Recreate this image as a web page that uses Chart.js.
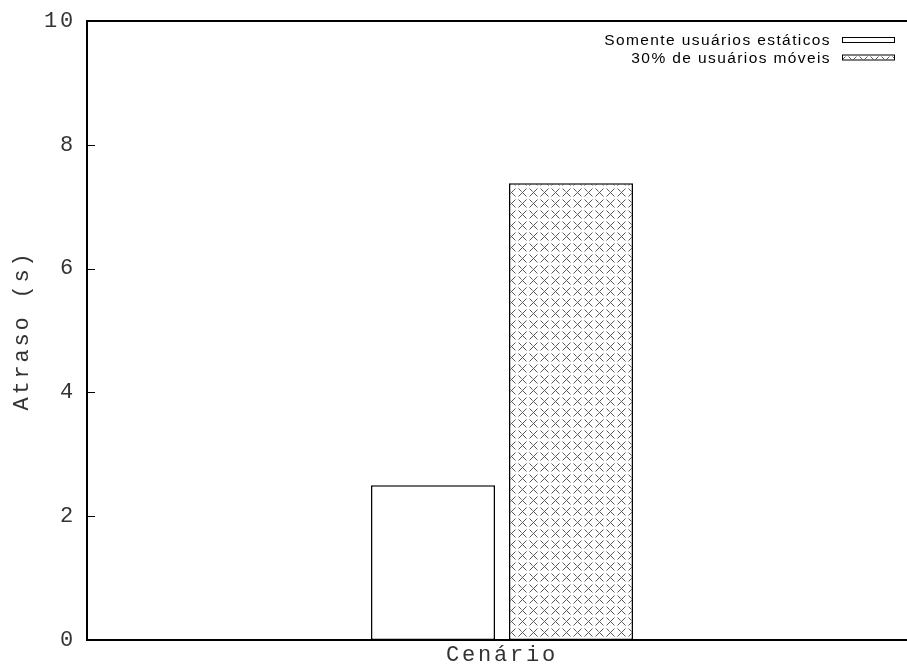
<!DOCTYPE html>
<html>
<head>
<meta charset="utf-8">
<script src="https://cdn.jsdelivr.net/npm/chart.js@4.4.1/dist/chart.umd.min.js"></script>
<style>
html,body{margin:0;padding:0;background:#fff;overflow:hidden}
#chart{display:block}
</style>
</head>
<body>
<canvas id="chart" width="930" height="668"></canvas>
<script>
const categorias = ['']
const rotulos = ['Somente usuários estáticos', '30% de usuários móveis']
const estaticos = [2.5]
const moveis = [7.38]
const eixoX = 'Cenário'
const eixoY = 'Atraso (s)'

const mono = {family: '"Liberation Mono", "Courier New", monospace', size: 22}

// cross hatch, lines broken at the tile corners like the gnuplot pattern
function hachura(){
    const c = document.createElement('canvas')
    c.width = 11
    c.height = 11
    const g = c.getContext('2d')
    g.fillStyle = '#fff'
    g.fillRect(0, 0, 11, 11)
    g.strokeStyle = '#111'
    g.lineWidth = 0.7
    g.beginPath()
    g.moveTo(1.5, 1.5); g.lineTo(4.6, 4.6)
    g.moveTo(6.0, 6.0); g.lineTo(9.5, 9.5)
    g.moveTo(9.5, 1.5); g.lineTo(1.5, 9.5)
    g.stroke()
    return g.createPattern(c, 'repeat')
}

const moldura = {
    id: 'moldura',
    beforeDraw(chart){
        chart.ctx.letterSpacing = '2.8px'
    },
    afterDraw(chart){
        const {ctx, chartArea: a, scales: {y}} = chart
        ctx.save()
        ctx.strokeStyle = '#000'
        ctx.lineWidth = 2
        ctx.beginPath()
        ctx.moveTo(a.left - 1, a.top)
        ctx.lineTo(a.right + 10, a.top)
        ctx.stroke()

        // inward ticks
        ctx.lineWidth = 1
        ctx.beginPath()
        y.ticks.forEach(t => {
            const p = Math.round(y.getPixelForValue(t.value)) + 0.5
            ctx.moveTo(a.left, p)
            ctx.lineTo(a.left + 8, p)
        })
        ctx.stroke()

        // key, text on the left of the sample like gnuplot
        ctx.letterSpacing = '1.4px'
        ctx.font = '15.5px "Liberation Sans", Arial, sans-serif'
        ctx.textAlign = 'right'
        ctx.textBaseline = 'alphabetic'
        chart.data.datasets.forEach((ds, i) => {
            const yy = 45 + i * 17.5
            ctx.fillStyle = '#000'
            ctx.fillText(ds.label, 831, yy)
            ctx.fillStyle = ds.backgroundColor
            ctx.fillRect(842, yy - 8, 53, 5)
            ctx.strokeRect(842.5, yy - 7.5, 52, 5)
        })
        ctx.restore()
    }
}

const chart = new Chart(document.querySelector('#chart'), {
    type: 'bar',
    data: {
        labels: categorias,
        datasets: [
            {label: rotulos[0], data: estaticos, backgroundColor: '#fff', borderColor: '#000',
             borderWidth: 1.5, borderSkipped: false, categoryPercentage: 0.3325, barPercentage: 0.8986},
            {label: rotulos[1], data: moveis, backgroundColor: hachura(), borderColor: '#000',
             borderWidth: 1.5, borderSkipped: false, categoryPercentage: 0.3325, barPercentage: 0.8986}
        ]
    },
    options: {
        responsive: false,
        animation: false,
        layout: {padding: {top: 21, right: 13, left: 0, bottom: 0}},
        plugins: {legend: {display: false}, tooltip: {enabled: false}},
        scales: {
            x: {
                grid: {display: false, drawTicks: false},
                border: {display: true, color: '#000', width: 2},
                ticks: {display: false},
                title: {display: true, text: eixoX, color: '#333', font: mono, padding: {top: 0, bottom: 0}},
                afterFit(s){ s.height = 28; s.paddingLeft = 0; s.paddingRight = 0 }
            },
            y: {
                min: 0,
                max: 10,
                ticks: {stepSize: 2, color: '#333', font: mono, padding: 11},
                grid: {display: false, drawTicks: false},
                border: {display: true, color: '#000', width: 2},
                title: {display: true, text: eixoY, color: '#333', font: mono, padding: {top: 9, bottom: 0}},
                afterFit(s){ s.width = 87; s.paddingTop = 0; s.paddingBottom = 0 }
            }
        }
    },
    plugins: [moldura]
})
</script>
</body>
</html>
